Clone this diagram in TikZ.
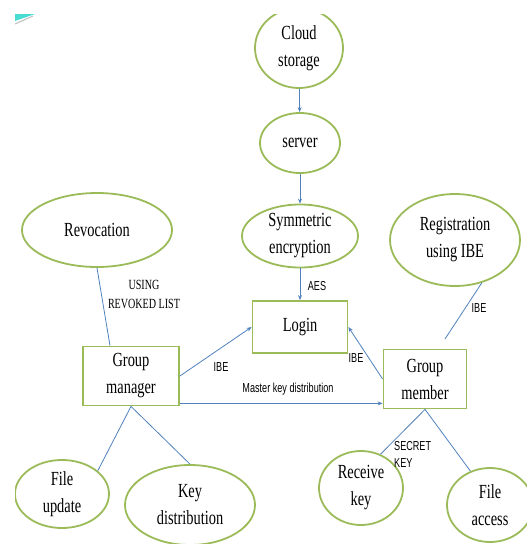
\documentclass[tikz,border=0pt]{standalone}
\usepackage{fontspec}
\usetikzlibrary{positioning, shapes.geometric, arrows.meta}
\newfontfamily\nodefont[FakeStretch=0.72]{Liberation Serif}
\newfontfamily\labelfont[FakeStretch=0.7]{Liberation Sans}
\definecolor{leafgreen}{RGB}{155,187,89}
\definecolor{linkblue}{RGB}{79,129,189}
\definecolor{wedgeteal}{RGB}{72,220,210}

\begin{document}
\begin{tikzpicture}[x=1pt, y=-1pt,
    % Node styles
    bubble/.style={ellipse, draw=leafgreen, line width=1.8pt, inner sep=0pt, align=center, font=\nodefont\fontsize{20}{27}\selectfont},
    box/.style={rectangle, draw=leafgreen, line width=1.8pt, inner sep=0pt, align=center, font=\nodefont\fontsize{20}{27}\selectfont},
    tag/.style={inner sep=0pt, align=center, font=\labelfont\fontsize{13}{17}\selectfont},
    serieftag/.style={inner sep=0pt, align=center, font=\nodefont\fontsize{14}{19}\selectfont},
    % Edge styles
    edge/.style={draw=linkblue, line width=0.8pt, -{Stealth[length=5pt,width=4pt]}},
    link/.style={draw=linkblue, line width=0.8pt}
]
\useasboundingbox (0,0) rectangle (527,544);
\clip (15,14) rectangle (527,544);

% Stray mark, top left
\fill[wedgeteal] (15,14) -- (35,14) -- (15,21) -- cycle;
\draw[gray!50, line width=1pt] (15,24) -- (33,16);

% Top column
\node[bubble, minimum width=88pt, minimum height=80pt] (cloud) at (299,48) {Cloud\\storage};
\node[bubble, minimum width=80pt, minimum height=60pt] (server) at (300,143) {server};
\node[bubble, minimum width=116pt, minimum height=62pt] (symenc) at (300,236) {Symmetric\\encryption};
\node[box, minimum width=95pt, minimum height=52pt] (login) at (300,327) {Login};

% Side ellipses
\node[bubble, minimum width=150pt, minimum height=74pt] (revoke) at (97,230) {Revocation};
\node[bubble, minimum width=130pt, minimum height=92pt] (regist) at (455,240) {Registration\\using IBE};

% Group boxes
\node[box, minimum width=96pt, minimum height=59pt] (gman) at (131,376) {Group\\manager};
\node[box, minimum width=83pt, minimum height=59pt] (gmem) at (425,379) {Group\\member};

% Bottom ellipses
\node[bubble, minimum width=94pt, minimum height=68pt] (fileup) at (62,494) {File\\update};
\node[bubble, minimum width=130pt, minimum height=80pt] (keydist) at (190,505) {Key\\distribution};
\node[bubble, minimum width=84pt, minimum height=74pt] (recvkey) at (361,488) {Receive\\key};
\node[bubble, minimum width=86pt, minimum height=74pt] (faccess) at (490,505) {File\\access};

% Free end of the registration line
\coordinate (regend) at (445,339);

% Labels
\node[serieftag] (lrevoke) at (144,294) {USING\\REVOKED LIST};
\node[tag] (laes) at (317,286) {AES};
\node[tag] (libeman) at (221,367) {IBE};
\node[tag] (libemem) at (356,358) {IBE};
\node[tag] (libereg) at (479,308) {IBE};
\node[tag] (lmaster) at (288,389) {Master key distribution};
\node[tag, anchor=west, align=left] (lsecret) at (394,454) {SECRET\\KEY};

% Draw all edges
\draw[edge] (cloud) -- (server);
\draw[edge] (server) -- (symenc);
\draw[edge] (symenc) -- (login);

\draw[link] (revoke.south) -- ([xshift=-21pt]gman.north);
\draw[link] (regist.-58) -- (regend);

\draw[edge] (gman.east) -- (login.west);
\draw[edge] (gmem.west) -- (login.east);
\draw[edge] ([yshift=3pt]gman.south east) -- ([yshift=3pt]gman.south east -| gmem.west);

\draw[link] (gman.south) -- (fileup.33);
\draw[link] (gman.south) -- (keydist.north);

\draw[link] (gmem.south) -- (recvkey.60);
\draw[link] (gmem.south) -- (faccess.120);

\end{tikzpicture}
\end{document}
